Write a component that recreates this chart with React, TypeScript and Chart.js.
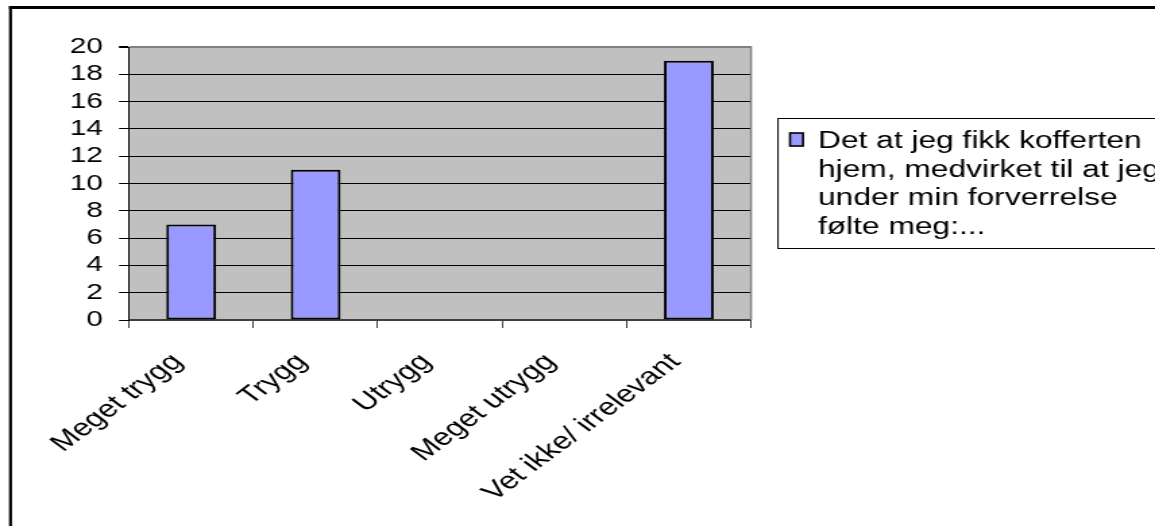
import React, { useEffect, useRef } from 'react';
import { Chart, registerables } from 'chart.js';

Chart.register(...registerables);

// ---- data ----
const categories = ['Meget trygg', 'Trygg', 'Utrygg', 'Meget utrygg', 'Vet ikke/ irrelevant'];
const values = [7, 11, 0, 0, 19];
const yMin = 0;
const yMax = 20;
const yStep = 2;
const seriesLabel = 'Det at jeg fikk kofferten hjem, medvirket til at jeg under min forverrelse følte meg:...';
const legendLines = ['Det at jeg fikk kofferten', 'hjem, medvirket til at jeg', 'under min forverrelse', 'følte meg:...'];

// ---- layout (canvas drawn narrow and stretched horizontally, like the reference) ----
const W = 856;
const H = 526;
const DISPLAY_W = 1155;
const S = DISPLAY_W / W;
const FONT = '"Liberation Sans", Arial, Helvetica, sans-serif';
const BAR_COLOR = '#9999FF';

const decor = {
  id: 'decor',
  beforeDraw(chart: any) {
    const { ctx, chartArea: a } = chart;
    ctx.save();
    ctx.fillStyle = '#ffffff';
    ctx.fillRect(0, 0, chart.width, chart.height);
    // outer frame (left and top edges visible)
    ctx.fillStyle = '#000000';
    ctx.fillRect(9 / S, 6, 3 / S, H);
    ctx.fillRect(9 / S, 6, W, 3);
    // plot area
    ctx.fillStyle = '#C0C0C0';
    ctx.fillRect(a.left, a.top, a.right - a.left, a.bottom - a.top);
    ctx.restore();
  },
  beforeDatasetsDraw(chart: any) {
    const { ctx, chartArea: a } = chart;
    ctx.save();
    ctx.fillStyle = '#808080';
    ctx.fillRect(a.right - 1 / S, a.top - 1, 2 / S, a.bottom - a.top + 1);
    ctx.restore();
  },
  afterDraw(chart: any) {
    const { ctx } = chart;
    const ds = chart.data.datasets[0];
    ctx.save();
    const bx = 778 / S;
    const by = 118;
    const bh = 130;
    ctx.fillStyle = '#ffffff';
    ctx.fillRect(bx, by, W - bx + 20, bh);
    ctx.strokeStyle = '#000000';
    ctx.lineWidth = 1;
    ctx.strokeRect(bx, by + 0.5, W - bx + 20, bh);
    // legend swatch
    const sx = 790 / S;
    const sy = 133;
    ctx.fillStyle = ds.backgroundColor;
    ctx.fillRect(sx, sy, 13 / S, 13);
    ctx.lineWidth = 1.6;
    ctx.strokeRect(sx, sy, 13 / S, 13);
    // legend text
    ctx.fillStyle = '#000000';
    ctx.font = `23.5px ${FONT}`;
    ctx.textBaseline = 'alphabetic';
    ctx.textAlign = 'left';
    legendLines.forEach((line, i) => {
      ctx.fillText(line, 818 / S, 148 + i * 28.7);
    });
    ctx.restore();
  },
};

export default function App() {
  const ref = useRef<HTMLCanvasElement | null>(null);

  useEffect(() => {
    if (!ref.current) return;
    const chart = new Chart(ref.current, {
      type: 'bar',
      data: {
        labels: categories,
        datasets: [
          {
            label: seriesLabel,
            data: values,
            backgroundColor: BAR_COLOR,
            borderColor: '#000000',
            borderWidth: values.map((v) => (v ? 2 : 0)),
            borderSkipped: false,
            barPercentage: 0.4,
            categoryPercentage: 1.0,
          },
        ],
      },
      options: {
        responsive: false,
        animation: false,
        layout: { padding: { top: 47, right: W - 751 / S, left: 0, bottom: 0 } },
        plugins: { legend: { display: false }, tooltip: { enabled: false } },
        scales: {
          x: {
            ticks: {
              color: '#000000',
              font: { family: FONT, size: 24 },
              minRotation: 45,
              maxRotation: 45,
              padding: 20,
              labelOffset: -10,
              autoSkip: false,
            },
            grid: {
              offset: true,
              drawOnChartArea: false,
              tickLength: 8,
              color: '#404040',
              lineWidth: 1,
            },
            border: { color: '#404040', width: 2 },
            afterFit: (s: any) => {
              s.height = H - 320;
            },
          },
          y: {
            min: yMin,
            max: yMax,
            ticks: {
              stepSize: yStep,
              autoSkip: false,
              color: '#000000',
              font: { family: FONT, size: 22 },
              padding: 12,
            },
            grid: {
              color: (c: any) => (c.tick && c.tick.value === yMax ? '#808080' : '#000000'),
              lineWidth: (c: any) => (c.tick && c.tick.value === yMax ? 2 : 1),
              tickLength: 10 / S,
              tickColor: '#000000',
            },
            border: { color: '#000000', width: 1 },
            afterFit: (s: any) => {
              s.width = 129 / S;
            },
          },
        },
      },
      plugins: [decor],
    });
    return () => chart.destroy();
  }, []);

  return (
    <div style={{ position: 'absolute', left: 0, top: 0, width: DISPLAY_W, height: H, background: '#fff' }}>
      <canvas
        ref={ref}
        width={W}
        height={H}
        style={{ display: 'block', width: `${DISPLAY_W}px`, height: `${H}px` }}
      />
    </div>
  );
}
